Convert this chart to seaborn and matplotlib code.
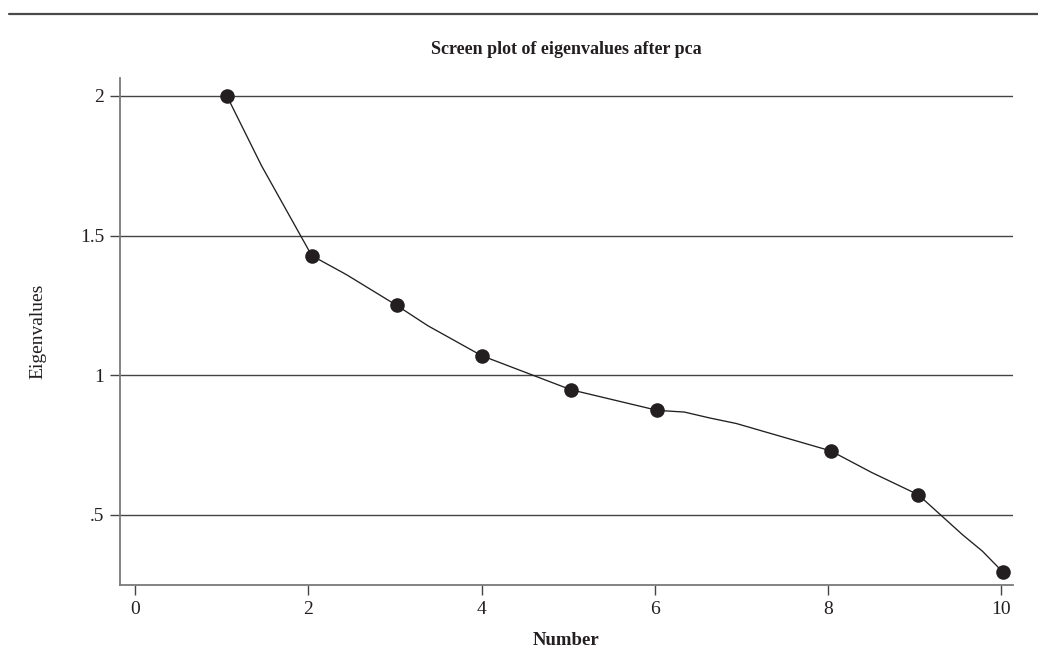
import numpy as np
import pandas as pd
import matplotlib
matplotlib.use("Agg")
import matplotlib.pyplot as plt
from matplotlib.lines import Line2D
import seaborn as sns

# ------------------------------------------------------------------ #
# Data
# ------------------------------------------------------------------ #
# eigenvalue markers
point_x = [1.06, 2.04, 3.02, 4.0, 5.03, 6.03, 8.03, 9.04, 10.02]
point_y = [2.0, 1.428, 1.25, 1.07, 0.948, 0.874, 0.729, 0.572, 0.294]

# connecting curve (includes the bends between markers)
curve_x = [1.06, 1.46, 2.04, 2.44, 3.02, 3.38, 4.0, 5.03, 6.03,
           6.34, 6.63, 6.94, 8.03, 8.5, 9.04, 9.55, 9.78, 10.02]
curve_y = [2.0, 1.75, 1.428, 1.36, 1.25, 1.177, 1.07, 0.948, 0.874,
           0.868, 0.847, 0.827, 0.729, 0.652, 0.572, 0.429, 0.37, 0.294]

x_ticks = [0, 2, 4, 6, 8, 10]
y_ticks = [0.5, 1.0, 1.5, 2.0]
y_tick_labels = [".5", "1", "1.5", "2"]

points = pd.DataFrame({"Number": point_x, "Eigenvalues": point_y})
curve = pd.DataFrame({"Number": curve_x, "Eigenvalues": curve_y})

# ------------------------------------------------------------------ #
# Style
# ------------------------------------------------------------------ #
sns.set_style("white")
plt.rcParams["font.family"] = ["Liberation Serif", "DejaVu Serif"]

ink = "#231f20"
spine_col = "#7a7a7a"
grid_col = "#444444"

fig = plt.figure(figsize=(10.38, 6.72), dpi=100)
ax = fig.add_axes([0.1156, 0.1295, 0.976 - 0.1156, 0.884 - 0.1295])

for y in y_ticks:
    ax.axhline(y, color=grid_col, lw=1.0, zorder=1)

sns.lineplot(data=curve, x="Number", y="Eigenvalues", sort=False,
             estimator=None, color=ink, lw=0.95, ax=ax, zorder=2)
sns.scatterplot(data=points, x="Number", y="Eigenvalues", color=ink,
                s=110, edgecolor=ink, linewidth=0, ax=ax, zorder=3)

ax.set_xlim(-0.173, 10.134)
ax.set_ylim(0.249, 2.064)
ax.set_xticks(x_ticks)
ax.set_yticks(y_ticks)
ax.set_yticklabels(y_tick_labels)

for side in ["top", "right"]:
    ax.spines[side].set_visible(False)
for side in ["left", "bottom"]:
    ax.spines[side].set_color(spine_col)
    ax.spines[side].set_linewidth(1.3)

ax.tick_params(axis="both", direction="out", length=7.5, width=1.0,
               color=grid_col, labelsize=14, labelcolor=ink, pad=4)
ax.tick_params(axis="x", bottom=True)
ax.tick_params(axis="y", left=True)

ax.set_xlabel("Number", fontsize=13.5, fontweight="bold", color=ink, labelpad=10)
ax.set_ylabel("Eigenvalues", fontsize=14, color=ink, labelpad=24)
ax.set_title("Screen plot of eigenvalues after pca", fontsize=13,
             fontweight="bold", color=ink, pad=17)

# thin rule across the top of the page
fig.add_artist(Line2D([9 / 1038, 1.0], [1 - 14 / 672, 1 - 14 / 672],
                      color="#4a4a4a", lw=1.6, transform=fig.transFigure))

plt.savefig("out.png", dpi=100)
plt.close()
